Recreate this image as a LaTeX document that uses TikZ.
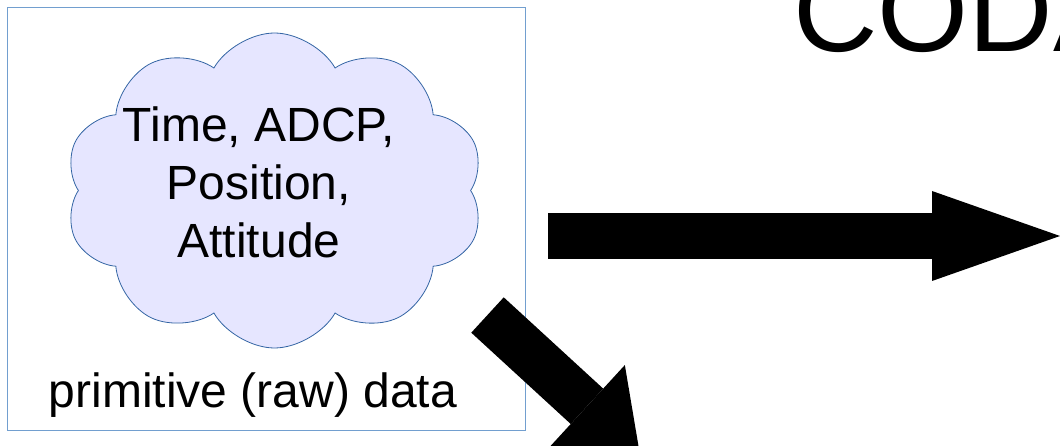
\documentclass[tikz,border=0pt]{standalone}
\usepackage{fontspec}
\setmainfont{Liberation Sans}
\usetikzlibrary{shapes.symbols}
\usetikzlibrary{arrows.meta}
\definecolor{frameblue}{HTML}{729FCF}
\definecolor{cloudline}{HTML}{3465A4}
\definecolor{cloudfill}{HTML}{E6E6FF}
\tikzset{
  big text/.style={font=\fontsize{48}{58}\selectfont, inner sep=0pt},
  fat arrow/.style={line width=46pt, -{Triangle[width=90pt, length=128pt, line width=0pt]}},
  short fat arrow/.style={line width=48pt, -{Triangle[width=112pt, length=72pt, line width=0pt]}}
}

\begin{document}
\begin{tikzpicture}[x=1pt, y=-1pt]
\useasboundingbox (0,0) rectangle (1060,446);
\draw (266,219) node[draw=frameblue, line width=1pt, minimum width=518pt, minimum height=422pt] (raw frame) {};
\draw (274.5,190.5) node[cloud, cloud puffs=10, cloud puff arc=120, draw=cloudline, fill=cloudfill, line width=0.8pt, minimum width=419pt, minimum height=315pt] (data cloud) {};
\draw (259,182.5) node[big text, align=center] (cloud text) {Time, ADCP,\\Position,\\Attitude};
\draw (253,407) node[big text, anchor=base] (raw label) {primitive (raw) data};
\draw (793,52) node[font=\fontsize{117}{140}\selectfont, inner sep=0pt, anchor=base west] (coda title) {CODA};

%%arrows
\coordinate (right start) at (548,236);
\coordinate (right end) at (1060,236);
\coordinate (down start) at (487.5,315);
\coordinate (down end) at (640,455);
\draw[fat arrow] (right start) -- (right end);
\draw[short fat arrow] (down start) -- (down end);
\end{tikzpicture}
\end{document}
